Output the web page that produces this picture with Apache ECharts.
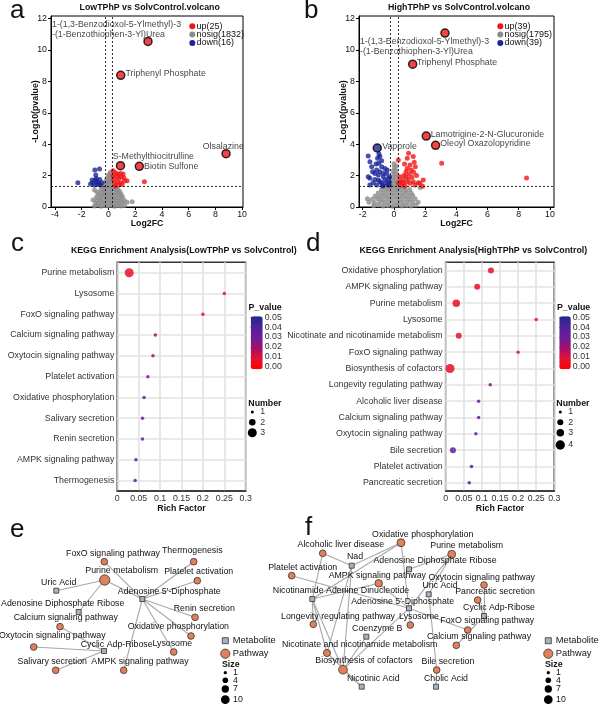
<!DOCTYPE html>
<html>
<head>
<meta charset="utf-8">
<script src="https://cdn.jsdelivr.net/npm/echarts@6/dist/echarts.min.js"></script>
<style>html,body{margin:0;background:#fff}#main{width:600px;height:704px}</style>
</head>
<body>
<div id="main"></div>
<script>
var FONT = '"Liberation Sans", Arial, sans-serif';

// ---------- volcano a : LowTPhP vs SolvControl  [log2FC, -log10(p)]
var lowUp = [[0.35,2.31],[0.52,2.19],[0.70,2.10],[0.90,2.14],[1.10,2.10],[0.60,1.93],[0.77,1.82],[1.15,1.86],
  [0.40,1.72],[0.65,1.61],[0.90,1.55],[1.19,1.65],[0.47,1.46],[0.77,1.40],[1.02,1.44],[0.52,1.34],[1.39,1.68],
  [2.69,1.61],[0.95,1.93],[0.35,1.97]];
var lowDown = [[-2.29,1.55],[-1.02,2.36],[-0.67,2.42],[-1.34,1.47],[-1.17,1.55],[-0.97,1.72],[-0.85,1.61],[-0.72,1.51],
  [-0.60,1.40],[-0.90,1.82],[-1.04,1.40],[-0.80,1.44],[-0.47,1.55],[-1.22,1.72],[-0.65,1.76],[-0.95,2.04]];
var lowNosig = [[-1.05,0.07],[-0.82,0.12],[-0.55,0.05],[-0.3,0.1],[-0.05,0.06],[0.2,0.11],[0.45,0.05],[0.7,0.09],[0.95,0.06],[1.2,0.1],
  [-0.95,0.27],[-0.7,0.23],[-0.45,0.29],[-0.2,0.24],[0.05,0.28],[0.3,0.22],[0.55,0.27],[0.8,0.24],[1.07,0.3],[1.4,0.31],[1.78,0.34],
  [-1.15,0.45],[-0.85,0.41],[-0.6,0.44],[-0.35,0.4],[-0.1,0.46],[0.15,0.42],[0.4,0.45],[0.65,0.4],[0.9,0.44],[1.18,0.43],
  [-0.9,0.62],[-0.65,0.58],[-0.4,0.63],[-0.15,0.59],[0.1,0.62],[0.35,0.58],[0.6,0.61],[0.85,0.59],[1.05,0.65],
  [-0.75,0.8],[-0.5,0.76],[-0.25,0.81],[0.0,0.77],[0.25,0.8],[0.5,0.76],[0.75,0.79],[0.95,0.82],
  [-1.04,1.08],[-0.85,0.96],[-0.6,0.93],[-0.35,0.98],[-0.1,0.94],[0.15,0.97],[0.4,0.93],[0.65,0.96],[0.85,0.98],
  [-0.55,1.13],[-0.3,1.1],[-0.05,1.14],[0.2,1.11],[0.45,1.15],[0.7,1.12],
  [-0.45,1.3],[-0.2,1.27],[0.05,1.31],[0.3,1.28],[0.55,1.25],
  [-0.22,1.49],[-0.05,1.46],[0.2,1.5],[0.1,1.6],[-0.18,1.66],[0.05,1.63],[0.22,1.68],
  [-0.1,1.83],[0.12,1.8],[0.23,1.9],[0.0,2.0],[0.2,2.02],[0.08,2.1],[0.15,2.22]];
var lowMarked = [
  ['1-(1,3-Benzodioxol-5-Ylmethyl)-3\n-(1-Benzothiophen-3-Yl)Urea', 2.96, 10.55, 'up'],
  ['Triphenyl Phosphate', 0.92, 8.39, 'up'],
  ['Olsalazine', 8.8, 3.4, 'up'],
  ['S-Methylthiocitrulline', 0.9, 2.63, 'up'],
  ['Biotin Sulfone', 2.31, 2.59, 'up']];
var lowCounts = {up: 25, nosig: 1832, down: 16};

// ---------- volcano b : HighTPhP vs SolvControl
var highUp = [[0.94,3.42],[1.24,3.21],[0.85,3.10],[1.30,2.85],[0.68,2.74],[1.03,2.68],[1.37,2.57],[0.85,2.46],
  [1.11,2.36],[0.77,2.25],[1.26,2.21],[0.98,2.10],[0.64,2.00],[1.45,2.00],[0.28,2.99],[0.38,1.61],[0.60,1.55],
  [0.81,1.61],[1.03,1.51],[1.35,1.40],[0.49,1.40],[0.71,1.34],[1.88,1.72],[1.84,1.32],[0.38,1.93],[1.15,1.89],
  [0.92,1.78],[1.56,1.55],[0.30,1.51],[0.56,1.72],[1.24,1.61],[0.77,1.93],[1.67,1.51],[3.06,2.78],[8.50,1.85]];
var highDown = [[-1.65,3.25],[-0.96,3.38],[-0.90,3.21],[-1.05,3.10],[-1.54,2.89],[-0.98,2.78],[-0.79,2.95],[-1.11,2.36],
  [-0.68,2.14],[-1.54,1.83],[-1.22,1.76],[-0.90,1.61],[-0.58,1.72],[-0.36,1.83],[-1.54,1.40],[-1.11,1.40],[-0.79,1.51],
  [-0.47,1.55],[-0.36,1.40],[-0.28,1.93],[-0.58,2.46],[-1.43,2.57],[-0.79,2.57],[-1.00,2.04],[-1.33,1.55],[-0.68,1.93],
  [-0.47,2.14],[-0.90,2.25],[-1.22,2.14],[-0.30,1.61],[-0.68,1.38],[-1.00,1.72],[-1.65,1.93],[-0.43,2.36],[-1.37,2.25],
  [-0.31,1.40],[-1.15,2.74],[-0.73,1.34]];
var highNosig = [[-1.3,0.08],[-1.0,0.12],[-0.7,0.06],[-0.4,0.1],[-0.1,0.05],[0.2,0.11],[0.5,0.07],[0.8,0.1],[1.1,0.06],[1.4,0.12],
  [-1.6,0.3],[-1.25,0.27],[-0.9,0.32],[-0.6,0.28],[-0.3,0.31],[0.0,0.26],[0.3,0.3],[0.6,0.27],[0.9,0.32],[1.2,0.28],[1.55,0.3],
  [-1.7,0.52],[-1.38,0.49],[-1.05,0.53],[-0.75,0.48],[-0.45,0.52],[-0.15,0.47],[0.15,0.51],[0.45,0.48],[0.75,0.53],[1.05,0.49],[1.35,0.52],
  [-1.2,0.7],[-0.9,0.68],[-0.6,0.72],[-0.3,0.69],[0.0,0.71],[0.3,0.67],[0.6,0.72],[0.9,0.7],[1.2,0.73],
  [-1.0,0.9],[-0.7,0.88],[-0.4,0.92],[-0.1,0.89],[0.2,0.91],[0.5,0.88],[0.8,0.93],[1.1,0.9],
  [-0.8,1.1],[-0.5,1.08],[-0.2,1.12],[0.1,1.09],[0.4,1.11],[0.7,1.07],[1.0,1.12],
  [-0.6,1.28],[-0.35,1.25],[-0.1,1.29],[0.15,1.26],[0.4,1.27],[0.65,1.24],[1.68,1.25],
  [-0.2,1.48],[0.0,1.45],[0.2,1.5],[-0.15,1.68],[0.05,1.66],[0.22,1.7],[-0.1,1.9],[0.1,1.88],
  [0.0,2.1],[0.18,2.08],[-0.05,2.3],[0.12,2.32],[0.02,2.52],[0.0,2.76],[0.15,2.62]];
var highMarked = [
  ['1-(1,3-Benzodioxol-5-Ylmethyl)-3\n-(1-Benzothiophen-3-Yl)Urea', 3.27, 11.08, 'up'],
  ['Triphenyl Phosphate', 1.2, 9.1, 'up'],
  ['Lamotrigine-2-N-Glucuronide', 2.07, 4.52, 'up'],
  ['Oleoyl Oxazolopyridine', 2.67, 3.93, 'up'],
  ['Vapprole', -1.07, 3.76, 'down']];
var highCounts = {up: 39, nosig: 1795, down: 39};

var fcCut = 0.263, pCut = 1.301;
var lowFcTicks = [-4, -2, 0, 2, 4, 6, 8, 10];
var highFcTicks = [-2, 0, 2, 4, 6, 8, 10];
var pTicks = [0, 2, 4, 6, 8, 10, 12];

// ---------- KEGG enrichment
var lowPathways = ['Purine metabolism', 'Lysosome', 'FoxO signaling pathway', 'Calcium signaling pathway',
  'Oxytocin signaling pathway', 'Platelet activation', 'Oxidative phosphorylation', 'Salivary secretion',
  'Renin secretion', 'AMPK signaling pathway', 'Thermogenesis'];
var lowRich = [0.0278, 0.25, 0.2, 0.0889, 0.0833, 0.0714, 0.0625, 0.0588, 0.0588, 0.0435, 0.0417];
var lowP = [0.009, 0.008, 0.009, 0.021, 0.022, 0.028, 0.030, 0.031, 0.031, 0.036, 0.037];
var lowNumber = [3, 1, 1, 1, 1, 1, 1, 1, 1, 1, 1];

var highPathways = ['Oxidative phosphorylation', 'AMPK signaling pathway', 'Purine metabolism', 'Lysosome',
  'Nicotinate and nicotinamide metabolism', 'FoxO signaling pathway', 'Biosynthesis of cofactors',
  'Longevity regulating pathway', 'Alcoholic liver disease', 'Calcium signaling pathway',
  'Oxytocin signaling pathway', 'Bile secretion', 'Platelet activation', 'Pancreatic secretion'];
var highRich = [0.125, 0.087, 0.0293, 0.25, 0.036, 0.2, 0.012, 0.123, 0.0909, 0.0909, 0.0833, 0.02, 0.0714, 0.065];
var highP = [0.008, 0.009, 0.007, 0.008, 0.009, 0.010, 0.008, 0.025, 0.031, 0.030, 0.032, 0.033, 0.040, 0.040];
var highNumber = [2, 2, 3, 1, 2, 1, 4, 1, 1, 1, 1, 2, 1, 1];
var pValueTicks = [0, 0.01, 0.02, 0.03, 0.04, 0.05];

// ---------- networks: [name, type, size]
var eNodes = [
  ['FoxO signaling pathway', 'Pathway', 1], ['Thermogenesis', 'Pathway', 1], ['Purine metabolism', 'Pathway', 10],
  ['Platelet activation', 'Pathway', 1], ['Renin secretion', 'Pathway', 1], ['Calcium signaling pathway', 'Pathway', 1],
  ['Oxidative phosphorylation', 'Pathway', 1], ['Oxytocin signaling pathway', 'Pathway', 1], ['Lysosome', 'Pathway', 1],
  ['Salivary secretion', 'Pathway', 1], ['AMPK signaling pathway', 'Pathway', 1],
  ['Uric Acid', 'Metabolite', 1], ["Adenosine 5'-Diphosphate", 'Metabolite', 1],
  ['Adenosine Diphosphate Ribose', 'Metabolite', 1], ['Cyclic Adp-Ribose', 'Metabolite', 1]];
var eLinks = [
  ['Purine metabolism', 'Uric Acid'], ['Purine metabolism', 'Adenosine Diphosphate Ribose'],
  ['Purine metabolism', "Adenosine 5'-Diphosphate"], ['FoxO signaling pathway', "Adenosine 5'-Diphosphate"],
  ['Thermogenesis', "Adenosine 5'-Diphosphate"], ['Platelet activation', "Adenosine 5'-Diphosphate"],
  ['Renin secretion', "Adenosine 5'-Diphosphate"], ['Oxidative phosphorylation', "Adenosine 5'-Diphosphate"],
  ['Lysosome', "Adenosine 5'-Diphosphate"], ['AMPK signaling pathway', "Adenosine 5'-Diphosphate"],
  ['Calcium signaling pathway', 'Cyclic Adp-Ribose'], ['Oxytocin signaling pathway', 'Cyclic Adp-Ribose'],
  ['Salivary secretion', 'Cyclic Adp-Ribose']];
var fNodes = [
  ['Oxidative phosphorylation', 'Pathway', 4], ['Alcoholic liver disease', 'Pathway', 1], ['Platelet activation', 'Pathway', 1],
  ['AMPK signaling pathway', 'Pathway', 3], ['Purine metabolism', 'Pathway', 4], ['Oxytocin signaling pathway', 'Pathway', 1],
  ['Pancreatic secretion', 'Pathway', 1], ['Longevity regulating pathway', 'Pathway', 1], ['Lysosome', 'Pathway', 1],
  ['FoxO signaling pathway', 'Pathway', 1], ['Calcium signaling pathway', 'Pathway', 1],
  ['Nicotinate and nicotinamide metabolism', 'Pathway', 2], ['Biosynthesis of cofactors', 'Pathway', 6],
  ['Bile secretion', 'Pathway', 1],
  ['Nad', 'Metabolite', 1], ['Adenosine Diphosphate Ribose', 'Metabolite', 1],
  ['Nicotinamide Adenine Dinucleotide', 'Metabolite', 1], ['Uric Acid', 'Metabolite', 1],
  ["Adenosine 5'-Diphosphate", 'Metabolite', 1], ['Cyclic Adp-Ribose', 'Metabolite', 1],
  ['Coenzyme B', 'Metabolite', 1], ['Nicotinic Acid', 'Metabolite', 1], ['Cholic Acid', 'Metabolite', 1]];
var fLinks = [
  ['Oxidative phosphorylation', 'Nad'], ['Oxidative phosphorylation', 'Nicotinamide Adenine Dinucleotide'],
  ['Oxidative phosphorylation', "Adenosine 5'-Diphosphate"], ['Purine metabolism', 'Adenosine Diphosphate Ribose'],
  ['Purine metabolism', 'Uric Acid'], ['Purine metabolism', "Adenosine 5'-Diphosphate"],
  ['Oxytocin signaling pathway', 'Cyclic Adp-Ribose'], ['Pancreatic secretion', 'Cyclic Adp-Ribose'],
  ['Calcium signaling pathway', 'Cyclic Adp-Ribose'], ['FoxO signaling pathway', "Adenosine 5'-Diphosphate"],
  ['Lysosome', "Adenosine 5'-Diphosphate"], ['Platelet activation', "Adenosine 5'-Diphosphate"],
  ['AMPK signaling pathway', "Adenosine 5'-Diphosphate"], ['AMPK signaling pathway', 'Nicotinamide Adenine Dinucleotide'],
  ['Bile secretion', 'Cholic Acid'], ['Bile secretion', 'Uric Acid'],
  ['Alcoholic liver disease', 'Nicotinamide Adenine Dinucleotide'], ['Alcoholic liver disease', 'Nad'],
  ['Longevity regulating pathway', 'Nicotinamide Adenine Dinucleotide'],
  ['Nicotinate and nicotinamide metabolism', 'Nicotinamide Adenine Dinucleotide'],
  ['Nicotinate and nicotinamide metabolism', 'Nad'], ['Nicotinate and nicotinamide metabolism', 'Nicotinic Acid'],
  ['Biosynthesis of cofactors', 'Nicotinamide Adenine Dinucleotide'], ['Biosynthesis of cofactors', 'Nad'],
  ['Biosynthesis of cofactors', 'Coenzyme B'], ['Biosynthesis of cofactors', "Adenosine 5'-Diphosphate"],
  ['Biosynthesis of cofactors', 'Nicotinic Acid']];

// layout of the networks (panel-local units) and label shifts
var eLayout = {
  'FoxO signaling pathway': [104.3, 41.7], 'Thermogenesis': [193.7, 41.7], 'Purine metabolism': [104.7, 60],
  'Platelet activation': [197.3, 60.7], 'Renin secretion': [195, 97.3], 'Calcium signaling pathway': [60, 106.7],
  'Oxidative phosphorylation': [191, 116], 'Oxytocin signaling pathway': [33.7, 127], 'Lysosome': [173.7, 132],
  'Salivary secretion': [55.7, 150.3], 'AMPK signaling pathway': [123.7, 150.3], 'Uric Acid': [56.3, 70.7],
  "Adenosine 5'-Diphosphate": [142.3, 79], 'Adenosine Diphosphate Ribose': [78.7, 92], 'Cyclic Adp-Ribose': [104, 131]};
var eShift = {
  'FoxO signaling pathway': [8.7, -7.7], 'Thermogenesis': [-1.4, -10.7], 'Purine metabolism': [17, -9.3],
  'Platelet activation': [1.4, -9], 'Renin secretion': [9.3, -9], 'Calcium signaling pathway': [5.7, -8.7],
  'Oxidative phosphorylation': [-12.7, -9.3], 'Oxytocin signaling pathway': [18.6, -11], 'Lysosome': [-1.4, -8],
  'Salivary secretion': [-3.4, -8.6], 'AMPK signaling pathway': [16.3, -8.6], 'Uric Acid': [2.4, -8],
  "Adenosine 5'-Diphosphate": [27, -7.3], 'Adenosine Diphosphate Ribose': [-16, -8.7], 'Cyclic Adp-Ribose': [12.7, -6.7]};
var fLayout = {
  'Oxidative phosphorylation': [141, 22.7], 'Alcoholic liver disease': [62.7, 33.3], 'Platelet activation': [31.7, 55.7],
  'AMPK signaling pathway': [118.7, 63.3], 'Purine metabolism': [191.7, 34.3], 'Oxytocin signaling pathway': [224, 65],
  'Pancreatic secretion': [217.7, 80], 'Longevity regulating pathway': [53.3, 104.3], 'Lysosome': [150.3, 105],
  'FoxO signaling pathway': [207.7, 110], 'Calcium signaling pathway': [196.3, 125.3],
  'Nicotinate and nicotinamide metabolism': [67, 133], 'Biosynthesis of cofactors': [83, 149.7], 'Bile secretion': [176.7, 150],
  'Nad': [91.7, 45.7], 'Adenosine Diphosphate Ribose': [149, 49.3], 'Nicotinamide Adenine Dinucleotide': [52.3, 79],
  'Uric Acid': [168.7, 74.3], "Adenosine 5'-Diphosphate": [149, 88.3], 'Cyclic Adp-Ribose': [224, 96],
  'Coenzyme B': [106.3, 116.7], 'Nicotinic Acid': [101.7, 166.7], 'Cholic Acid': [176, 166.7]};
var fShift = {
  'Oxidative phosphorylation': [21.7, -8.4], 'Alcoholic liver disease': [18.1, -8.3], 'Platelet activation': [11, -8.4],
  'AMPK signaling pathway': [-1.4, -7.6], 'Purine metabolism': [15, -8.6], 'Oxytocin signaling pathway': [-2.3, -7.7],
  'Pancreatic secretion': [17.3, -8.3], 'Longevity regulating pathway': [24.7, -7.6], 'Lysosome': [8.7, -8],
  'FoxO signaling pathway': [19.6, -9], 'Calcium signaling pathway': [22.7, -8.6],
  'Nicotinate and nicotinamide metabolism': [32.7, -8.7], 'Biosynthesis of cofactors': [21, -8.7], 'Bile secretion': [11.3, -8.7],
  'Nad': [3.3, -8.7], 'Adenosine Diphosphate Ribose': [26, -8.3], 'Nicotinamide Adenine Dinucleotide': [28.7, -8.3],
  'Uric Acid': [11.3, -8.3], "Adenosine 5'-Diphosphate": [-6.3, -6.6], 'Cyclic Adp-Ribose': [15, -8.7],
  'Coenzyme B': [11, -8], 'Nicotinic Acid': [11.6, -8.4], 'Cholic Acid': [10, -8.4]};

// label placement of the marked volcano points: [dx, dy, align]
var markShift = {
  'low|1-(1,3-Benzodioxol-5-Ylmethyl)-3\n-(1-Benzothiophen-3-Yl)Urea': [-96, -12, 'left'],
  'low|Triphenyl Phosphate': [4.7, -2, 'left'],
  'low|Olsalazine': [-2.8, -7, 'center'],
  'low|S-Methylthiocitrulline': [-7.7, -9, 'left'],
  'low|Biotin Sulfone': [4.7, 0, 'left'],
  'high|1-(1,3-Benzodioxol-5-Ylmethyl)-3\n-(1-Benzothiophen-3-Yl)Urea': [-85, 13.3, 'left'],
  'high|Triphenyl Phosphate': [4, -1.7, 'left'],
  'high|Lamotrigine-2-N-Glucuronide': [4.4, -1.7, 'left'],
  'high|Oleoyl Oxazolopyridine': [4.6, -1.3, 'left'],
  'high|Vapprole': [5, -1.3, 'left']};

var RED = '#f01616', BLUE = '#1c2499', GREY = '#8c8c8c';
var ORANGE = '#e2805a', SLATE = '#a7b2c5';
var PCOLORS = ['#ff0000', '#e3132f', '#a30f6e', '#6c1d98', '#50229a', '#1c2a8e'];
var TXT = '#111';
var GRIDLINE = '#e3e3e3';

function txt(x, y, s, extra) {
  return {type: 'text', x: x, y: y, silent: true, z: 50,
    style: Object.assign({text: s, fill: TXT, font: '8.8px ' + FONT,
      align: 'left', verticalAlign: 'middle', textAlign: 'left', textVerticalAlign: 'middle'}, extra || {})};
}
function dot(x, y, r, fill, stroke) {
  return {type: 'circle', silent: true, z: 50, shape: {cx: x, cy: y, r: r},
    style: {fill: fill, stroke: stroke || null, lineWidth: stroke ? 0.8 : 0}};
}
function square(x, y, s, fill) {
  return {type: 'rect', silent: true, z: 50, shape: {x: x - s / 2, y: y - s / 2, width: s, height: s},
    style: {fill: fill, stroke: '#333', lineWidth: 0.8}};
}

function volcanoSeries(gi, tag, nosig, down, up, marked) {
  return [
    {type: 'scatter', xAxisIndex: gi, yAxisIndex: gi, data: nosig, symbolSize: 5, itemStyle: {color: GREY},
      markLine: {silent: true, symbol: 'none', label: {show: false},
        lineStyle: {color: '#000', width: 0.8, type: [2, 2]},
        data: [{xAxis: -fcCut}, {xAxis: fcCut}, {yAxis: pCut}]}},
    {type: 'scatter', xAxisIndex: gi, yAxisIndex: gi, data: down, symbolSize: 5, itemStyle: {color: BLUE}},
    {type: 'scatter', xAxisIndex: gi, yAxisIndex: gi, data: up, symbolSize: 5, itemStyle: {color: RED}},
    {type: 'scatter', xAxisIndex: gi, yAxisIndex: gi, symbolSize: 8, z: 4,
      itemStyle: {borderColor: '#000', borderWidth: 1.5},
      label: {show: true, position: 'inside', formatter: '{b}', color: TXT, fontSize: 8.8, fontFamily: FONT,
        verticalAlign: 'middle', lineHeight: 10},
      data: marked.map(function (m) {
        var s = markShift[tag + '|' + m[0]];
        return {name: m[0], value: [m[1], m[2]], itemStyle: {color: m[3] === 'up' ? RED : BLUE},
          label: {offset: [s[0], s[1]], align: s[2]}};
      })}
  ];
}

function volcanoAxes(gi, xmin, xmax, fcTicks) {
  var lab = {fontFamily: FONT, fontSize: 8.8, color: TXT};
  var nameStyle = {fontFamily: FONT, fontSize: 8.8, fontWeight: 'bold', color: TXT};
  return {
    x: {gridIndex: gi, type: 'value', min: xmin, max: xmax, name: 'Log2FC', nameLocation: 'middle', nameGap: 12,
      nameMoveOverlap: false,
      nameTextStyle: nameStyle, axisLine: {onZero: false, lineStyle: {color: '#000', width: 1}},
      axisTick: {length: 3, lineStyle: {color: '#000'}, customValues: fcTicks},
      axisLabel: Object.assign({margin: 3, customValues: fcTicks}, lab), splitLine: {show: false}},
    y: {gridIndex: gi, type: 'value', min: 0, max: 12.17, name: '-Log10(pvalue)', nameLocation: 'middle', nameGap: 11,
      nameMoveOverlap: false,
      nameTextStyle: nameStyle, axisLine: {onZero: false, lineStyle: {color: '#000', width: 1}},
      axisTick: {length: 3, lineStyle: {color: '#000'}, customValues: pTicks},
      axisLabel: Object.assign({margin: 4, customValues: pTicks}, lab), splitLine: {show: false}}
  };
}

function dotAxes(gi, pathways) {
  return {
    x: {gridIndex: gi, type: 'value', min: 0, max: 0.3, interval: 0.05, name: 'Rich Factor', nameLocation: 'middle',
      nameGap: 13, nameMoveOverlap: false,
      nameTextStyle: {fontFamily: FONT, fontSize: 8.8, fontWeight: 'bold', color: TXT},
      axisLine: {show: true, lineStyle: {color: '#333', width: 1.5}},
      axisTick: {length: 3, lineStyle: {color: '#333'}},
      axisLabel: {margin: 3, fontFamily: FONT, fontSize: 8.8, color: '#333'},
      splitLine: {show: true, lineStyle: {color: GRIDLINE, width: 1.6}}},
    y: {gridIndex: gi, type: 'category', data: pathways, inverse: true,
      axisLine: {show: false}, axisTick: {alignWithLabel: true, length: 3, lineStyle: {color: '#333'}},
      axisLabel: {margin: 3, fontFamily: FONT, fontSize: 8.8, color: '#333'}, splitLine: {show: false}}
  };
}

function dotSeries(gi, pathways, rich, p, number, sizes) {
  return [
    {type: 'scatter', xAxisIndex: gi, yAxisIndex: gi, data: [], z: 1,
      markLine: {silent: true, z: 1, symbol: 'none', label: {show: false},
        lineStyle: {color: GRIDLINE, width: 1.6, type: 'solid'},
        data: pathways.map(function (n, i) { return {yAxis: i}; })}},
    {type: 'scatter', xAxisIndex: gi, yAxisIndex: gi, z: 6,
      data: pathways.map(function (n, i) { return [rich[i], n, p[i], number[i]]; }),
      encode: {x: 0, y: 1},
      symbolSize: function (v) { return sizes[v[3]]; },
      itemStyle: {opacity: 0.85}}
  ];
}

function netSeries(gi, nodes, links, layout, shift) {
  return {
    type: 'graph', coordinateSystem: 'cartesian2d', xAxisIndex: gi, yAxisIndex: gi, layout: 'none', z: 5,
    data: nodes.map(function (n) {
      var met = n[1] === 'Metabolite';
      return {name: n[0], value: layout[n[0]], symbol: met ? 'rect' : 'circle',
        symbolSize: met ? 5 : 6.7 + 0.4 * (n[2] - 1),
        itemStyle: {color: met ? SLATE : ORANGE, borderColor: '#333', borderWidth: 0.8},
        label: {offset: shift[n[0]]}};
    }),
    links: links.map(function (l) { return {source: l[0], target: l[1]}; }),
    lineStyle: {color: '#a8a8a8', width: 1.1, opacity: 1, curveness: 0},
    label: {show: true, position: 'inside', color: TXT, fontSize: 8.8, fontFamily: FONT, align: 'center',
      verticalAlign: 'middle'},
    emphasis: {disabled: true}
  };
}

var va = volcanoAxes(0, -4.3, 10.07, lowFcTicks);
var vb = volcanoAxes(1, -2.24, 10.26, highFcTicks);
var dc = dotAxes(2, lowPathways);
var dd = dotAxes(3, highPathways);

function cbarAxes(gi) {
  return {
    x: {gridIndex: gi, type: 'value', show: false, min: 0, max: 1},
    y: {gridIndex: gi, type: 'value', position: 'right', min: 0, max: 0.05, interval: 0.01,
      axisLine: {show: false}, axisTick: {show: true, length: 2, lineStyle: {color: '#333'}},
      axisLabel: {margin: 2, fontFamily: FONT, fontSize: 8.8, color: '#333',
        customValues: pValueTicks, formatter: function (v) { return v.toFixed(2); }},
      splitLine: {show: false}}
  };
}
var cbc = cbarAxes(4), cbd = cbarAxes(5);
function netAxes(gi, w, h) {
  return {x: {gridIndex: gi, type: 'value', show: false, min: 0, max: w},
          y: {gridIndex: gi, type: 'value', show: false, min: 0, max: h, inverse: true}};
}
var ne = netAxes(6, 300, 184), nf = netAxes(7, 340, 184);

var gridBase = {outerBoundsMode: 'none', containLabel: false};
function grid(l, t, w, h, extra) { return Object.assign({left: l, top: t, width: w, height: h}, gridBase, extra || {}); }

var series = []
  .concat(volcanoSeries(0, 'low', lowNosig, lowDown, lowUp, lowMarked))
  .concat(volcanoSeries(1, 'high', highNosig, highDown, highUp, highMarked))
  .concat(dotSeries(2, lowPathways, lowRich, lowP, lowNumber, {1: 3.5, 2: 6.5, 3: 9}))
  .concat(dotSeries(3, highPathways, highRich, highP, highNumber, {1: 3.5, 2: 6, 3: 7.5, 4: 9}))
  .concat([netSeries(6, eNodes, eLinks, eLayout, eShift), netSeries(7, fNodes, fLinks, fLayout, fShift)]);

function volcanoLegend(x, y0, counts) {
  var rows = [['up', RED, y0], ['nosig', GREY, y0 + 8.2], ['down', BLUE, y0 + 16.6]];
  var out = [];
  rows.forEach(function (r) {
    out.push(dot(x, r[2], 3, r[1]));
    out.push(txt(x + 4.2, r[2], r[0] + '(' + counts[r[0]] + ')', {font: '9px ' + FONT}));
  });
  return out;
}
function numberLegend(x, y, items) {
  var out = [txt(x - 4, y, 'Number', {font: 'bold 8.8px ' + FONT})];
  items.forEach(function (it) {
    out.push(dot(x, it[1], it[2] / 2, '#000'));
    out.push(txt(x + 8, it[1], String(it[0]), {fill: '#333'}));
  });
  return out;
}
function netLegend(x, y) {
  var out = [square(x, y, 6, SLATE), txt(x + 7.5, y, 'Metabolite', {font: '9.3px ' + FONT}),
    dot(x, y + 13, 4.6, ORANGE, '#333'), txt(x + 7.5, y + 13, 'Pathway', {font: '9.3px ' + FONT}),
    txt(x - 3.3, y + 23.6, 'Size', {font: 'bold 8.8px ' + FONT})];
  [[1, 32, 3.3], [4, 39.6, 5.6], [7, 48.3, 7.3], [10, 59, 8.7]].forEach(function (s) {
    out.push(dot(x, y + s[1], s[2] / 2, '#000'));
    out.push(txt(x + 7.7, y + s[1], String(s[0]), {font: '8.8px ' + FONT}));
  });
  return out;
}

var graphics = [
  txt(10, 11, 'a', {font: '26px ' + FONT}), txt(304, 11, 'b', {font: '26px ' + FONT}),
  txt(11, 243.7, 'c', {font: '26px ' + FONT}), txt(306, 243.7, 'd', {font: '26px ' + FONT}),
  txt(10, 530.3, 'e', {font: '26px ' + FONT}), txt(305, 528.3, 'f', {font: '26px ' + FONT}),
  txt(149.7, 7.5, 'LowTPhP vs SolvControl.volcano', {font: 'bold 8.8px ' + FONT, align: 'center', textAlign: 'center'}),
  txt(459, 7.5, 'HighTPhP vs SolvControl.volcano', {font: 'bold 8.8px ' + FONT, align: 'center', textAlign: 'center'}),
  txt(183.8, 250.7, 'KEGG Enrichment Analysis(LowTPhP vs SolvControl)', {font: 'bold 8.8px ' + FONT, align: 'center', textAlign: 'center'}),
  txt(473.3, 250.7, 'KEGG Enrichment Analysis(HighTPhP vs SolvControl)', {font: 'bold 8.8px ' + FONT, align: 'center', textAlign: 'center'}),
  txt(248.5, 308, 'P_value', {font: 'bold 8.8px ' + FONT}),
  txt(557, 308, 'P_value', {font: 'bold 8.8px ' + FONT})
].concat(volcanoLegend(192.3, 26.3, lowCounts))
 .concat(volcanoLegend(500.3, 26.3, highCounts))
 .concat(numberLegend(252.3, 403.3, [[1, 412, 3], [2, 422.3, 6.5], [3, 432.7, 9]]))
 .concat(numberLegend(560.3, 403.3, [[1, 412, 3], [2, 422.3, 6], [3, 432.7, 7.5], [4, 445, 9.3]]))
 .concat(netLegend(225.3, 640.7))
 .concat(netLegend(548.3, 640.7));

var option = {
  animation: false,
  backgroundColor: '#fff',
  textStyle: {fontFamily: FONT},
  grid: [
    grid(51, 16, 192, 191, {show: true, borderColor: '#000', borderWidth: 1}),
    grid(359, 16, 195, 191, {show: true, borderColor: '#000', borderWidth: 1}),
    grid(117.3, 262.3, 128.4, 228.7, {show: true, borderColor: '#333', borderWidth: 1.6}),
    grid(445.7, 262.3, 108.6, 228.7, {show: true, borderColor: '#333', borderWidth: 1.6}),
    grid(250.7, 317.3, 12, 49.4),
    grid(559.3, 317.3, 11.5, 49.4),
    grid(0, 520, 300, 184),
    grid(260, 520, 340, 184)
  ],
  xAxis: [va.x, vb.x, dc.x, dd.x, cbc.x, cbd.x, ne.x, nf.x],
  yAxis: [va.y, vb.y, dc.y, dd.y, cbc.y, cbd.y, ne.y, nf.y],
  visualMap: [
    {type: 'continuous', seriesIndex: 9, dimension: 2, min: 0, max: 0.05, calculable: false, padding: 0,
      left: 250.7, top: 316.3, itemWidth: 12, itemHeight: 53, inRange: {color: PCOLORS}, text: null},
    {type: 'continuous', seriesIndex: 11, dimension: 2, min: 0, max: 0.05, calculable: false, padding: 0,
      left: 559.3, top: 316.3, itemWidth: 11.5, itemHeight: 53, inRange: {color: PCOLORS}, text: null}
  ],
  graphic: graphics,
  series: series
};

var myChart = echarts.init(document.getElementById('main'));
myChart.setOption(option);
</script>
</body>
</html>
